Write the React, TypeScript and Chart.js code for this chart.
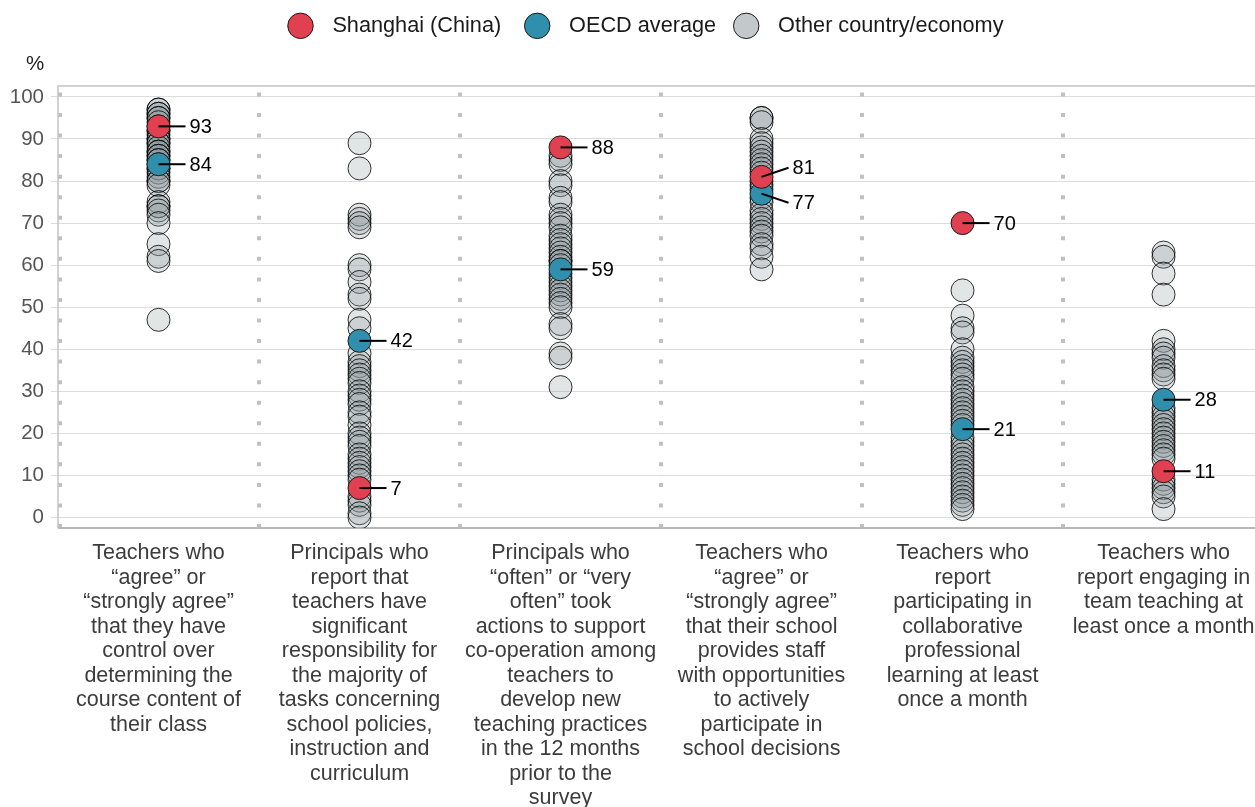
import React, { useEffect, useRef } from "react";
import { Chart, registerables } from "chart.js";

Chart.register(...registerables);

const categories: string[][] = [
  ["Teachers who", "“agree” or", "“strongly agree”", "that they have", "control over", "determining the", "course content of", "their class"],
  ["Principals who", "report that", "teachers have", "significant", "responsibility for", "the majority of", "tasks concerning", "school policies,", "instruction and", "curriculum"],
  ["Principals who", "“often” or “very", "often” took", "actions to support", "co-operation among", "teachers to", "develop new", "teaching practices", "in the 12 months", "prior to the", "survey"],
  ["Teachers who", "“agree” or", "“strongly agree”", "that their school", "provides staff", "with opportunities", "to actively", "participate in", "school decisions"],
  ["Teachers who", "report", "participating in", "collaborative", "professional", "learning at least", "once a month"],
  ["Teachers who", "report engaging in", "team teaching at", "least once a month"],
];

const seriesNames = ["Shanghai (China)", "OECD average", "Other country/economy"];

const shanghai = [93, 7, 88, 81, 70, 11];
const oecd = [84, 42, 59, 77, 21, 28];

const others1 = [97, 97, 96, 96, 95, 95, 94, 93, 92, 92, 91, 90, 90, 89, 89, 88, 87, 87, 86, 86, 85, 85, 84, 83, 83, 82, 81, 80, 80, 79, 75, 74, 74, 73, 72, 70, 65, 62, 61, 47];
const others2 = [89, 83, 72, 71, 70, 69, 60, 59, 56, 53, 52, 47, 45, 39, 37, 36, 35, 34, 33, 32, 30, 29, 28, 27, 25, 24, 22, 20, 19, 18, 17, 15, 14, 13, 12, 11, 10, 9, 5, 4, 3, 1, 0];
const others3 = [86, 85, 84, 80, 79, 76, 75, 72, 71, 70, 69, 67, 66, 65, 64, 63, 62, 61, 61, 60, 58, 57, 56, 55, 54, 53, 52, 51, 50, 46, 45, 39, 38, 31];
const others4 = [95, 95, 94, 90, 89, 88, 87, 86, 85, 84, 83, 82, 80, 79, 78, 76, 75, 73, 72, 71, 70, 69, 68, 67, 65, 64, 62, 59];
const others5 = [54, 48, 45, 44, 40, 38, 37, 36, 35, 34, 33, 31, 30, 29, 28, 27, 26, 25, 24, 23, 22, 19, 18, 17, 16, 15, 14, 13, 12, 11, 10, 9, 8, 7, 6, 5, 4, 3, 2];
const others6 = [63, 62, 58, 53, 42, 40, 39, 38, 36, 35, 34, 33, 26, 25, 24, 23, 22, 21, 20, 19, 18, 17, 16, 15, 14, 9, 8, 7, 6, 5, 2];
const othersByCategory = [others1, others2, others3, others4, others5, others6];

const yTicks = [0, 10, 20, 30, 40, 50, 60, 70, 80, 90, 100];

const FONT = "'Liberation Sans', Arial, sans-serif";
const RED = "#e0404f";
const TEAL = "#2f8fac";

const decorPlugin = {
  id: "decor",
  beforeLayout(chart: any) {
    const lg = chart.legend;
    if (lg && !lg._patched) {
      const orig = lg.fit.bind(lg);
      lg.fit = () => {
        orig();
        lg.height = 86;
      };
      lg._patched = true;
    }
  },
  afterLayout(chart: any) {
    const lg = chart.legend;
    if (lg) lg.left = 40;
  },
  beforeDatasetsDraw(chart: any) {
    const { ctx, chartArea, scales } = chart;
    const xs = scales.x;
    ctx.save();
    ctx.strokeStyle = "#c0c0c0";
    ctx.lineWidth = 4;
    ctx.setLineDash([4, 16.55]);
    for (let i = 0; i < categories.length; i++) {
      const px = Math.round(xs.getPixelForValue(i)) + (i === 0 ? 2 : 0);
      ctx.beginPath();
      ctx.moveTo(px, chartArea.bottom);
      ctx.lineTo(px, chartArea.top);
      ctx.stroke();
    }
    ctx.setLineDash([]);
    ctx.strokeStyle = "#c4c4c4";
    ctx.lineWidth = 1.5;
    ctx.beginPath();
    ctx.moveTo(chartArea.right, chartArea.top);
    ctx.lineTo(chartArea.left, chartArea.top);
    ctx.lineTo(chartArea.left, chartArea.bottom);
    ctx.stroke();
    ctx.strokeStyle = "#b8b8b8";
    ctx.lineWidth = 2;
    ctx.beginPath();
    ctx.moveTo(chartArea.left, chartArea.bottom);
    ctx.lineTo(chartArea.right, chartArea.bottom);
    ctx.stroke();
    ctx.restore();
  },
  afterDatasetsDraw(chart: any) {
    const { ctx, scales } = chart;
    const xs = scales.x;
    const ys = scales.y;
    ctx.save();
    ctx.font = `20px ${FONT}`;
    ctx.fillStyle = "#000";
    ctx.strokeStyle = "#000";
    ctx.lineWidth = 2;
    ctx.textBaseline = "middle";
    ctx.textAlign = "left";
    for (let i = 0; i < categories.length; i++) {
      const px = xs.getPixelForValue(i + 0.5);
      const items = [shanghai[i], oecd[i]].map((v) => {
        const py = ys.getPixelForValue(v);
        return { v, py, ly: py };
      });
      items.sort((a, b) => a.py - b.py);
      const gap = items[1].ly - items[0].ly;
      if (gap < 35) {
        const mid = (items[0].py + items[1].py) / 2;
        items[0].ly = mid - 17.5;
        items[1].ly = mid + 17.5;
      }
      items.forEach((it) => {
        ctx.beginPath();
        ctx.moveTo(px, it.py);
        ctx.lineTo(px + 27, it.ly);
        ctx.stroke();
        ctx.fillText(String(it.v), px + 31, it.ly + 1);
      });
    }
    ctx.restore();
  },
  afterDraw(chart: any) {
    const { ctx, chartArea } = chart;
    ctx.save();
    ctx.font = `20.5px ${FONT}`;
    ctx.fillStyle = "#222";
    ctx.textAlign = "center";
    ctx.textBaseline = "middle";
    ctx.fillText("%", chartArea.left - 23, chartArea.top - 22);
    ctx.restore();
  },
};

export default function App() {
  const canvasRef = useRef<HTMLCanvasElement | null>(null);

  useEffect(() => {
    document.body.style.margin = "0";
    const canvas = canvasRef.current;
    if (!canvas) return;

    const otherPoints: { x: number; y: number }[] = [];
    othersByCategory.forEach((arr, i) => arr.forEach((v) => otherPoints.push({ x: i + 0.5, y: v })));

    const chart = new Chart(canvas, {
      type: "scatter",
      data: {
        datasets: [
          {
            label: seriesNames[0],
            data: shanghai.map((v, i) => ({ x: i + 0.5, y: v })),
            backgroundColor: RED,
            borderColor: "#1a1a1a",
            borderWidth: 1,
            pointRadius: 11.5,
            order: 0,
          },
          {
            label: seriesNames[1],
            data: oecd.map((v, i) => ({ x: i + 0.5, y: v })),
            backgroundColor: TEAL,
            borderColor: "#1a1a1a",
            borderWidth: 1,
            pointRadius: 11.5,
            order: 1,
          },
          {
            label: seriesNames[2],
            data: otherPoints,
            backgroundColor: "rgba(140,152,156,0.25)",
            borderColor: "rgba(0,0,0,0.8)",
            borderWidth: 1,
            pointRadius: 11.5,
            order: 2,
          },
        ],
      },
      options: {
        responsive: false,
        animation: false,
        devicePixelRatio: 1,
        layout: { padding: 0, autoPadding: false },
        plugins: {
          tooltip: { enabled: false },
          legend: {
            position: "top",
            align: "center",
            labels: {
              usePointStyle: true,
              pointStyle: "circle",
              boxWidth: 18,
              boxHeight: 18,
              padding: 15,
              color: "#1a1a1a",
              font: { family: FONT, size: 21.7 },
              generateLabels(chart: any) {
                const items = (Chart.defaults.plugins.legend.labels as any).generateLabels(chart);
                items.forEach((it: any, idx: number) => {
                  const last = idx === items.length - 1;
                  it.text = "  " + it.text + (last ? "" : idx === 0 ? "  " : " ");
                  if (it.datasetIndex === 2) it.fillStyle = "#c3c9cb";
                  it.strokeStyle = "#1a1a1a";
                  it.lineWidth = 1;
                });
                return items;
              },
            },
          },
        },
        scales: {
          x: {
            type: "linear",
            min: 0,
            max: 5.955,
            grid: { display: false, drawTicks: false },
            border: { display: false },
            afterBuildTicks(scale: any) {
              scale.ticks = categories.map((_, i) => ({ value: i + 0.5 }));
            },
            afterFit(scale: any) {
              scale.height = 279;
              scale.paddingLeft = 0;
              scale.paddingRight = 0;
            },
            ticks: {
              autoSkip: false,
              maxRotation: 0,
              minRotation: 0,
              padding: 13,
              color: "#3c3c3c",
              font: { family: FONT, size: 21.5, lineHeight: 1.14 },
              callback: (_v: any, index: number) => categories[index],
            },
          },
          y: {
            type: "linear",
            min: -2.5,
            max: 102.6,
            border: { display: false },
            grid: { color: "#dcdcdc", lineWidth: 1, tickLength: 7 },
            afterBuildTicks(scale: any) {
              scale.ticks = yTicks.map((v) => ({ value: v }));
            },
            afterFit(scale: any) {
              scale.width = 58;
            },
            ticks: {
              padding: 7,
              color: "#555555",
              font: { family: FONT, size: 20.5 },
            },
          },
        },
      } as any,
      plugins: [decorPlugin as any],
    });

    return () => chart.destroy();
  }, []);

  return (
    <div style={{ width: 1255, height: 807 }}>
      <canvas ref={canvasRef} width={1255} height={807} style={{ display: "block", width: 1255, height: 807 }} />
    </div>
  );
}
